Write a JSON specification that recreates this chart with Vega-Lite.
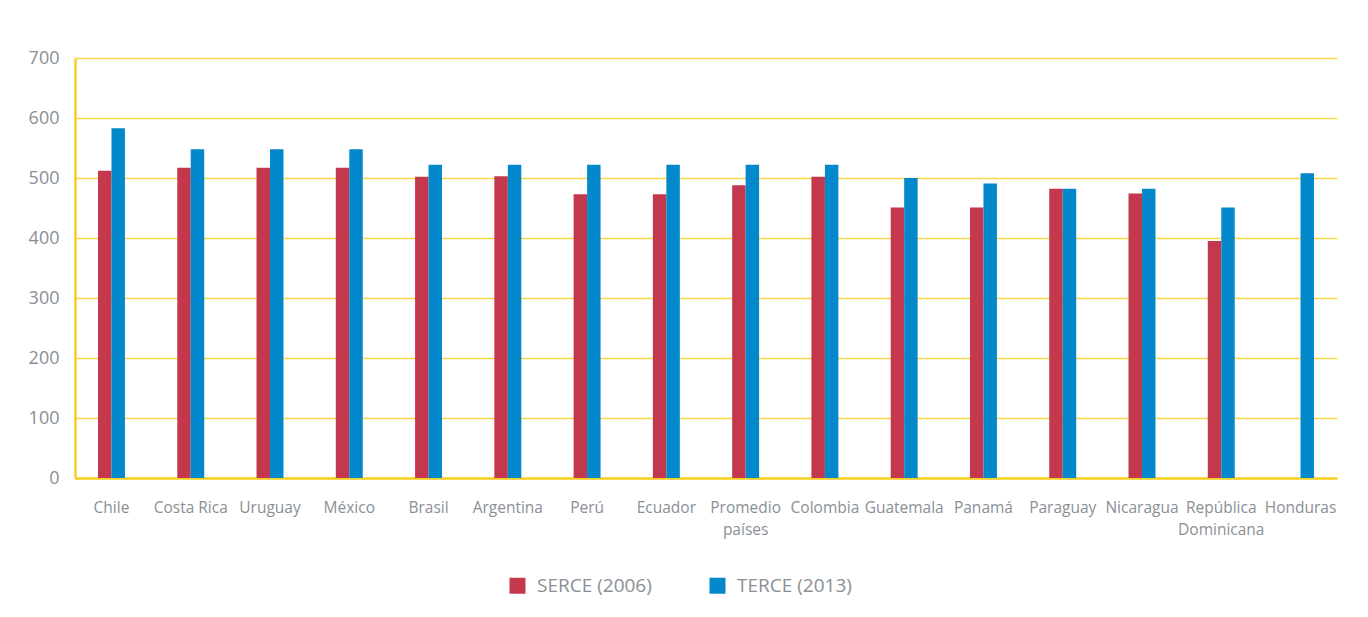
{
  "$schema": "https://vega.github.io/schema/vega-lite/v6.json",
  "width": 1262,
  "height": 420,
  "autosize": {"type": "none"},
  "padding": {"left": 75, "top": 58, "right": 31, "bottom": 139},
  "background": "white",
  "data": {
    "values": [
      {"pais": "Chile", "prueba": "SERCE (2006)", "puntaje": 512},
      {"pais": "Chile", "prueba": "TERCE (2013)", "puntaje": 583},
      {"pais": "Costa Rica", "prueba": "SERCE (2006)", "puntaje": 517},
      {"pais": "Costa Rica", "prueba": "TERCE (2013)", "puntaje": 548},
      {"pais": "Uruguay", "prueba": "SERCE (2006)", "puntaje": 517},
      {"pais": "Uruguay", "prueba": "TERCE (2013)", "puntaje": 548},
      {"pais": "México", "prueba": "SERCE (2006)", "puntaje": 517},
      {"pais": "México", "prueba": "TERCE (2013)", "puntaje": 548},
      {"pais": "Brasil", "prueba": "SERCE (2006)", "puntaje": 502},
      {"pais": "Brasil", "prueba": "TERCE (2013)", "puntaje": 522},
      {"pais": "Argentina", "prueba": "SERCE (2006)", "puntaje": 503},
      {"pais": "Argentina", "prueba": "TERCE (2013)", "puntaje": 522},
      {"pais": "Perú", "prueba": "SERCE (2006)", "puntaje": 473},
      {"pais": "Perú", "prueba": "TERCE (2013)", "puntaje": 522},
      {"pais": "Ecuador", "prueba": "SERCE (2006)", "puntaje": 473},
      {"pais": "Ecuador", "prueba": "TERCE (2013)", "puntaje": 522},
      {"pais": "Promedio países", "prueba": "SERCE (2006)", "puntaje": 488},
      {"pais": "Promedio países", "prueba": "TERCE (2013)", "puntaje": 522},
      {"pais": "Colombia", "prueba": "SERCE (2006)", "puntaje": 502},
      {"pais": "Colombia", "prueba": "TERCE (2013)", "puntaje": 522},
      {"pais": "Guatemala", "prueba": "SERCE (2006)", "puntaje": 451},
      {"pais": "Guatemala", "prueba": "TERCE (2013)", "puntaje": 500},
      {"pais": "Panamá", "prueba": "SERCE (2006)", "puntaje": 451},
      {"pais": "Panamá", "prueba": "TERCE (2013)", "puntaje": 491},
      {"pais": "Paraguay", "prueba": "SERCE (2006)", "puntaje": 482},
      {"pais": "Paraguay", "prueba": "TERCE (2013)", "puntaje": 482},
      {"pais": "Nicaragua", "prueba": "SERCE (2006)", "puntaje": 474},
      {"pais": "Nicaragua", "prueba": "TERCE (2013)", "puntaje": 482},
      {"pais": "República Dominicana", "prueba": "SERCE (2006)", "puntaje": 395},
      {"pais": "República Dominicana", "prueba": "TERCE (2013)", "puntaje": 451},
      {"pais": "Honduras", "prueba": "TERCE (2013)", "puntaje": 508}
    ]
  },
  "mark": {"type": "bar"},
  "encoding": {
    "x": {
      "field": "pais",
      "type": "nominal",
      "sort": null,
      "scale": {"paddingInner": 0.66, "paddingOuter": 0.29},
      "axis": {
        "title": null,
        "labelAngle": 0,
        "labelFont": "Open Sans",
        "labelFontSize": 15.5,
        "labelColor": "#8a8f96",
        "labelPadding": 22,
        "labelLineHeight": 22,
        "labelBaseline": "top",
        "ticks": false,
        "domainColor": "#F7CF22",
        "domainWidth": 2.5,
        "labelExpr": "datum.value == 'Promedio países' ? ['Promedio', 'países'] : datum.value == 'República Dominicana' ? ['República', 'Dominicana'] : datum.value",
        "labelOverlap": false
      }
    },
    "xOffset": {"field": "prueba", "type": "nominal", "scale": {"domain": ["SERCE (2006)", "TERCE (2013)"]}},
    "y": {
      "field": "puntaje",
      "type": "quantitative",
      "scale": {"domain": [0, 700], "nice": false},
      "axis": {
        "title": null,
        "values": [0, 100, 200, 300, 400, 500, 600, 700],
        "labelFont": "Open Sans",
        "labelFontSize": 18,
        "labelColor": "#8a8f96",
        "labelPadding": 16,
        "ticks": false,
        "domainColor": "#F7CF22",
        "domainWidth": 2.5,
        "gridColor": "#F9D64A",
        "gridWidth": 1.5
      }
    },
    "color": {
      "field": "prueba",
      "type": "nominal",
      "scale": {"domain": ["SERCE (2006)", "TERCE (2013)"], "range": ["#C3384C", "#0389CB"]},
      "legend": {
        "title": null,
        "orient": "none",
        "direction": "horizontal",
        "legendX": 433,
        "legendY": 518,
        "symbolType": "square",
        "symbolSize": 256,
        "symbolStrokeWidth": 0,
        "labelFont": "Open Sans",
        "labelFontSize": 19,
        "labelColor": "#8a8f96",
        "labelOffset": 10,
        "columnPadding": 56
      }
    }
  },
  "config": {
    "view": {"stroke": null}
  }
}
